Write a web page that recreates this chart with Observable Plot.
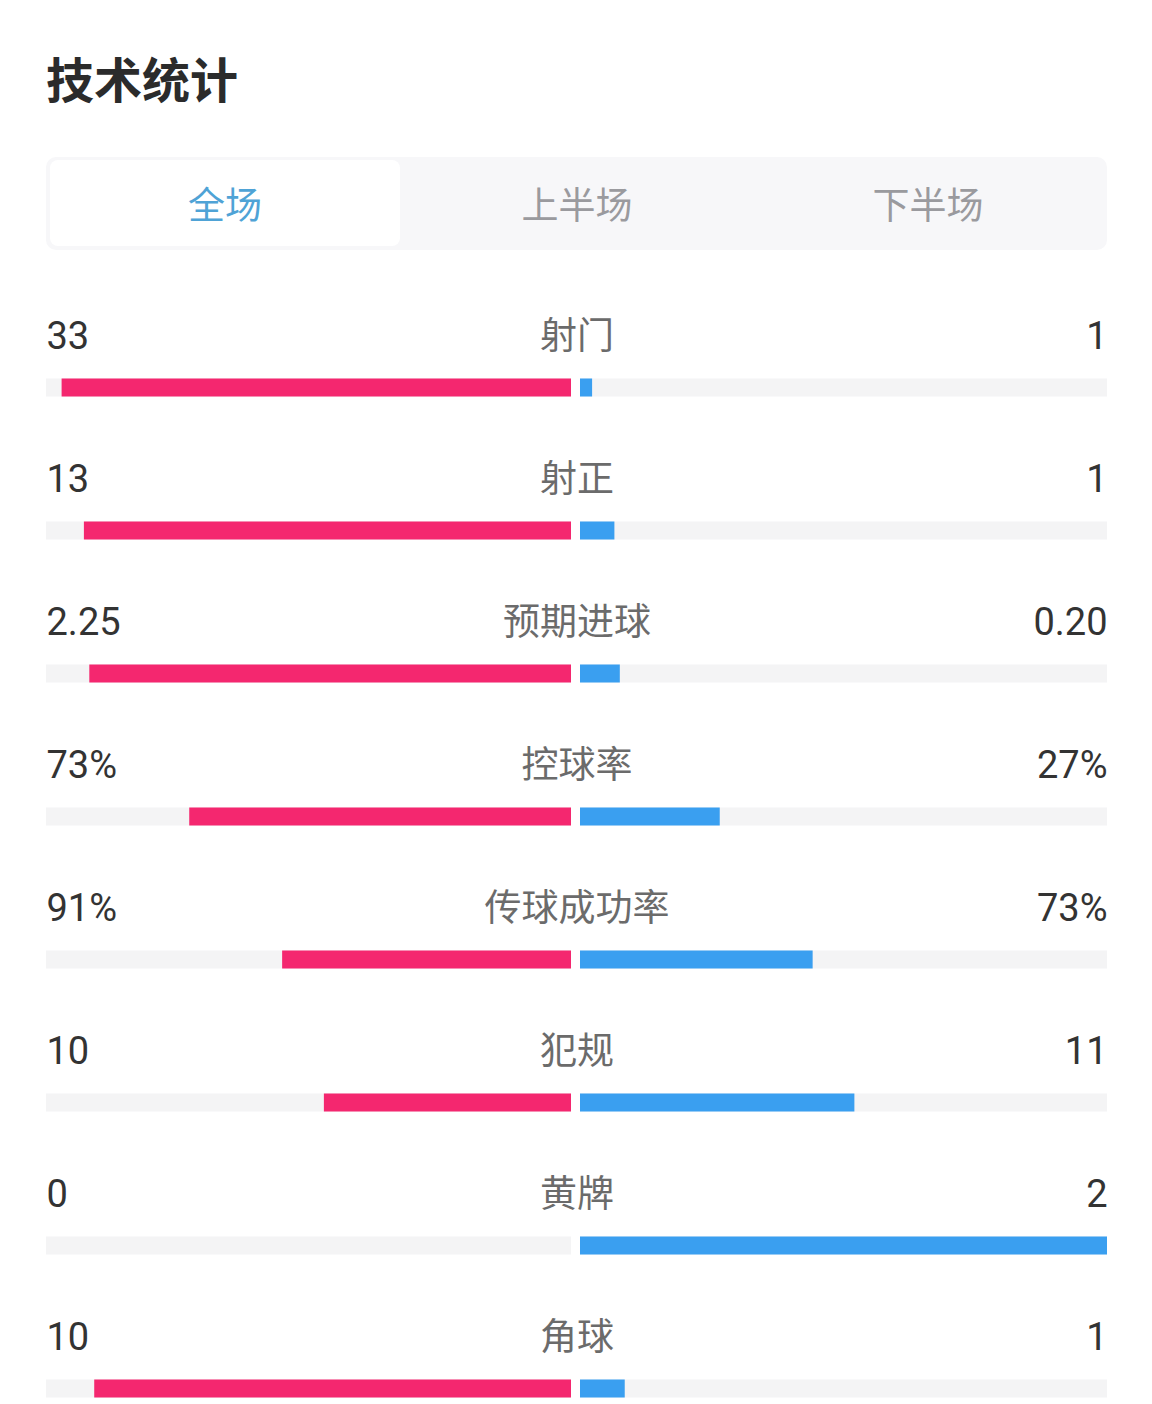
<!DOCTYPE html>
<html>
<head>
<meta charset="utf-8">
<script src="https://cdn.jsdelivr.net/npm/d3@7"></script>
<script src="https://cdn.jsdelivr.net/npm/@observablehq/plot@0.6"></script>
<style>
  html, body { margin: 0; padding: 0; background: #fff; }
  body { width: 1152px; font-family: Roboto, "Noto Sans CJK SC", sans-serif; }
  #header { position: relative; height: 290px; }
  #title { position: absolute; left: 46px; top: 48px; font-size: 48px; font-weight: 700; color: #2b2b2b; line-height: 58px; font-family: "Noto Sans CJK SC", sans-serif; }
  #tabs { position: absolute; left: 46px; top: 157px; width: 1061px; height: 93px; background: #f7f7f9; border-radius: 10px; }
  #active { position: absolute; left: 4px; top: 3px; width: 350px; height: 86px; background: #fff; border-radius: 8px; }
  .tab { position: absolute; top: 0; height: 93px; line-height: 93px; font-size: 37px; color: #9a9a9e; text-align: center; font-family: "Noto Sans CJK SC", sans-serif; }
</style>
</head>
<body>
<div id="header">
  <div id="title">技术统计</div>
  <div id="tabs">
    <div id="active"></div>
    <div class="tab" style="left:0;width:358px;color:#4fa3d6;">全场</div>
    <div class="tab" style="left:354px;width:354px;">上半场</div>
    <div class="tab" style="left:705px;width:354px;">下半场</div>
  </div>
</div>
<div id="chart"></div>
<script>
const labels = ["射门", "射正", "预期进球", "控球率", "传球成功率", "犯规", "黄牌", "角球"];
const homeValues = [33, 13, 2.25, 73, 91, 10, 0, 10];
const awayValues = [1, 1, 0.20, 27, 73, 11, 2, 1];
const homeText = ["33", "13", "2.25", "73%", "91%", "10", "0", "10"];
const awayText = ["1", "1", "0.20", "27%", "73%", "11", "2", "1"];

const rows = labels.map((label, i) => {
  const total = homeValues[i] + awayValues[i];
  return {
    label,
    home: total ? homeValues[i] / total : 0,
    away: total ? awayValues[i] / total : 0,
    homeText: homeText[i],
    awayText: awayText[i]
  };
});

const pink = "#f4276f";
const blue = "#3a9ff0";
const track = "#f4f4f5";
const font = "Roboto, 'Noto Sans CJK SC', sans-serif";

const plot = Plot.plot({
  width: 1152,
  height: 1114,
  marginLeft: 46,
  marginRight: 45,
  marginTop: 0,
  marginBottom: 0,
  x: {domain: [-1, 1], axis: null},
  y: {domain: labels, range: [25.5, 1169.5], padding: 0, axis: null},
  style: {fontFamily: font, background: "#fff"},
  marks: [
    Plot.barX(rows, {y: "label", x1: -1, x2: 0, fill: track, insetTop: 62.5, insetBottom: 62.5, insetRight: 5.5}),
    Plot.barX(rows, {y: "label", x1: 0, x2: 1, fill: track, insetTop: 62.5, insetBottom: 62.5, insetLeft: 3.5}),
    Plot.barX(rows.filter(d => d.home > 0), {y: "label", x1: d => -d.home, x2: 0, fill: pink, insetTop: 62.5, insetBottom: 62.5, insetRight: 5.5}),
    Plot.barX(rows.filter(d => d.away > 0), {y: "label", x1: 0, x2: d => d.away, fill: blue, insetTop: 62.5, insetBottom: 62.5, insetLeft: 3.5}),
    Plot.text(rows, {y: "label", x: -1, text: "homeText", textAnchor: "start", dy: -51, fontSize: 38, fill: "#333", fontFamily: font}),
    Plot.text(rows, {y: "label", x: 1, text: "awayText", textAnchor: "end", dy: -51, fontSize: 38, fill: "#333", fontFamily: font}),
    Plot.text(rows, {y: "label", x: 0, text: "label", textAnchor: "middle", dy: -51, fontSize: 37, fill: "#6b6b6b", fontFamily: "'Noto Sans CJK SC', sans-serif"})
  ]
});
document.getElementById("chart").appendChild(plot);
</script>
</body>
</html>
